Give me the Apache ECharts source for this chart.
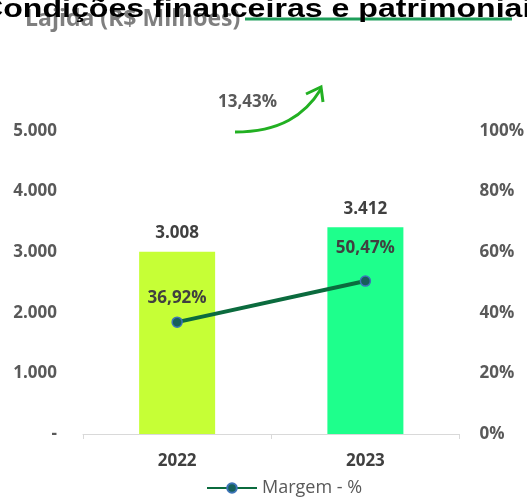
<!DOCTYPE html>
<html>
<head>
<meta charset="utf-8">
<script src="https://cdn.jsdelivr.net/npm/echarts@6/dist/echarts.min.js"></script>
<style>
    html, body { margin: 0; padding: 0; background: #fff; }
    #chart { width: 527px; height: 497px; }
</style>
</head>
<body>
<div id="chart"></div>
<script>
    var anos = ['2022', '2023'];
    var lajida = [3008, 3412];          // R$ milhões
    var margem = [36.92, 50.47];        // %
    var corBarras = ['#c6ff36', '#1eff8c'];
    var crescimento = '13,43%';

    var fonte = '"Open Sans", "Liberation Sans", sans-serif';
    var cinza = '#595959';

    function milhar(v) {
        if (v === 0) return '-';
        return String(v).replace(/\B(?=(\d{3})+(?!\d))/g, '.');
    }

    var chart = echarts.init(document.getElementById('chart'));

    var option = {
        animation: false,
        grid: { left: 83, right: 66, top: 131, bottom: 63 },
        legend: {
            data: ['Margem - %'],
            top: 474,
            left: 201,
            itemWidth: 50,
            itemHeight: 12,
            itemGap: 4,
            textStyle: { color: cinza, fontSize: 18, fontFamily: fonte }
        },
        xAxis: {
            type: 'category',
            data: anos,
            axisLine: { lineStyle: { color: '#d9d9d9' } },
            axisTick: { show: true, lineStyle: { color: '#d9d9d9' } },
            axisLabel: { color: '#404040', fontSize: 17, fontWeight: 'bold', fontFamily: fonte, margin: 19 }
        },
        yAxis: [
            {
                type: 'value', min: 0, max: 5000, interval: 1000,
                splitLine: { show: false },
                axisLabel: {
                    color: cinza, fontSize: 17, fontWeight: 'bold', fontFamily: fonte, margin: 26,
                    formatter: milhar
                }
            },
            {
                type: 'value', min: 0, max: 100, interval: 20,
                splitLine: { show: false },
                axisLabel: {
                    color: cinza, fontSize: 17, fontWeight: 'bold', fontFamily: fonte, margin: 20,
                    formatter: '{value}%'
                }
            }
        ],
        series: [
            {
                name: 'Lajida',
                type: 'bar',
                barWidth: 76,
                data: lajida.map(function (v, i) {
                    return { value: v, itemStyle: { color: corBarras[i] } };
                }),
                label: {
                    show: true, position: 'top', distance: 10,
                    color: '#404040', fontSize: 17, fontWeight: 'bold', fontFamily: fonte,
                    formatter: function (p) { return milhar(p.value); }
                }
            },
            {
                name: 'Margem - %',
                type: 'line',
                yAxisIndex: 1,
                data: margem.map(function (v, i) {
                    return { value: v, label: { distance: i === 0 ? 10 : 19 } };
                }),
                symbol: 'circle',
                symbolSize: 10,
                lineStyle: { color: '#0b6b3e', width: 4 },
                itemStyle: { color: '#16605a', borderColor: '#3d74b8', borderWidth: 1.5 },
                label: {
                    show: true, position: 'top',
                    color: '#404040', fontSize: 17, fontWeight: 'bold', fontFamily: fonte,
                    formatter: function (p) { return p.value.toFixed(2).replace('.', ',') + '%'; }
                },
                z: 5
            }
        ],
        graphic: [
            {
                type: 'text', left: 25, top: 8, z: 1,
                style: { text: 'Lajida (R$ Milhões)', fill: '#7f7f7f', font: 'bold 23px ' + fonte }
            },
            {
                type: 'line', z: 1,
                shape: { x1: 245, y1: 19, x2: 512, y2: 19 },
                style: { stroke: '#1e9e5a', lineWidth: 3 }
            },
            {
                type: 'text', x: -20, y: -3, scaleX: 1.235, z: 10,
                style: { text: 'Condições financeiras e patrimoniais', fill: '#000', font: 'bold 26px "Liberation Sans", Arial, sans-serif' }
            },
            {
                type: 'text', left: 218, top: 94,
                style: { text: crescimento, fill: cinza, font: 'bold 17px ' + fonte }
            },
            {
                type: 'bezierCurve',
                shape: { x1: 235, y1: 132, cpx1: 280, cpy1: 132, cpx2: 305, cpy2: 115, x2: 321, y2: 89 },
                style: { stroke: '#22b022', lineWidth: 3, fill: null }
            },
            {
                type: 'polyline',
                shape: { points: [[306, 94], [321, 87], [323, 102]] },
                style: { stroke: '#22b022', lineWidth: 3, fill: null }
            }
        ]
    };

    chart.setOption(option);
</script>
</body>
</html>
